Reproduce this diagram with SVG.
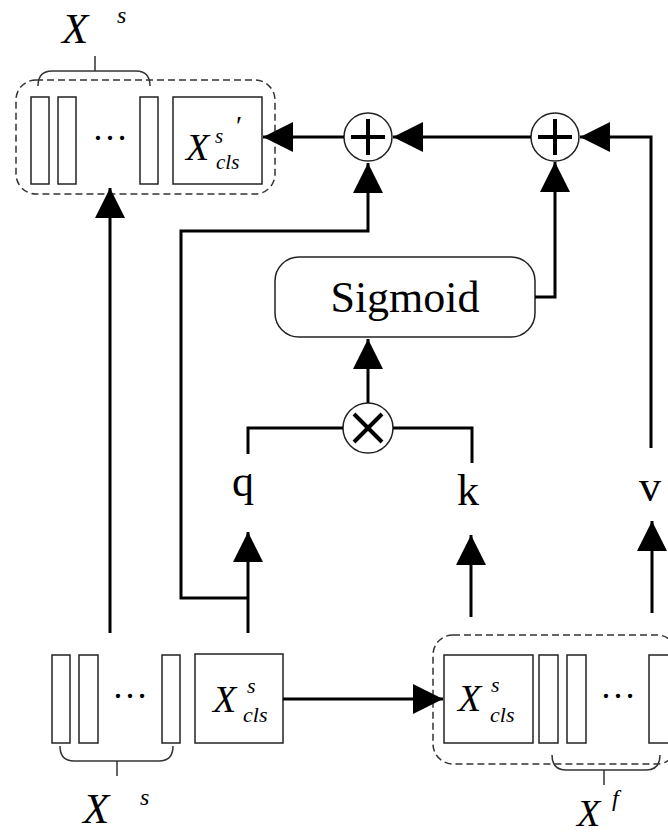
<svg xmlns="http://www.w3.org/2000/svg" width="668" height="833" viewBox="0 0 668 833">
<style>
.bar{fill:#fff;stroke:#222;stroke-width:1.5}
.dash{fill:none;stroke:#333;stroke-width:1.5;stroke-dasharray:7 4}
.brace{fill:none;stroke:#333;stroke-width:1.5}
.op{fill:#fff;stroke:#222;stroke-width:1.5}
.sym{stroke:#000;stroke-width:4;fill:none}
.con{fill:none;stroke:#000;stroke-width:3}
.arr{fill:none;stroke:#000;stroke-width:3;marker-end:url(#ah)}
text{font-family:'Liberation Serif','Times New Roman',Times,'DejaVu Serif',serif;fill:#000}
.i{font-style:italic}
</style>
<defs>
<marker id="ah" markerUnits="userSpaceOnUse" markerWidth="30" markerHeight="30" refX="28" refY="14" orient="auto" viewBox="0 0 28 28">
<path d="M0,0 L28,14 L0,28 z" fill="#000"/>
</marker>
</defs>
<rect width="668" height="833" fill="#fff"/>

<g id="top-group">
<rect class="dash" x="16" y="80" width="259" height="114" rx="20"/>
<rect class="bar" x="31" y="97" width="18" height="87"/>
<rect class="bar" x="58" y="97" width="18" height="87"/>
<rect class="bar" x="140" y="97" width="18" height="87"/>
<text x="110" y="140" font-size="36" text-anchor="middle">…</text>
<rect class="bar" x="173" y="97" width="89" height="87"/>
<text class="i" x="186" y="160" font-size="38">X</text>
<text class="i" x="215" y="143" font-size="21">s</text>
<text class="i" x="216" y="169" font-size="21">cls</text>
<text x="236" y="135" font-size="28">′</text>
<path class="brace" d="M38,86 Q38,71 52,71 L136,71 Q150,71 150,86 M95,71 L95,56"/>
<text class="i" x="62" y="43" font-size="43">X</text>
<text class="i" x="117" y="23" font-size="24">s</text>
</g>

<g id="plus1">
<circle class="op" cx="368" cy="137" r="24"/>
<path class="sym" d="M351,137 H385 M368,119 V155"/>
</g>

<g id="plus2">
<circle class="op" cx="555" cy="137" r="24"/>
<path class="sym" d="M538,137 H572 M555,119 V155"/>
</g>

<g id="sigmoid">
<rect class="op" x="275" y="257" width="260" height="80" rx="24"/>
<text x="405" y="312" font-size="44" text-anchor="middle">Sigmoid</text>
</g>

<g id="times">
<circle class="op" cx="368" cy="428" r="25"/>
<path class="sym" d="M354,414 L382,442 M382,414 L354,442"/>
</g>

<g id="labels-qkv">
<text x="243" y="496" font-size="44" text-anchor="middle">q</text>
<text x="468" y="505" font-size="44" text-anchor="middle">k</text>
<text x="650" y="501" font-size="44" text-anchor="middle">v</text>
</g>

<g id="bottom-left-group">
<rect class="bar" x="52" y="655" width="18" height="88"/>
<rect class="bar" x="79" y="655" width="19" height="88"/>
<rect class="bar" x="162" y="655" width="18" height="88"/>
<text x="130" y="698" font-size="36" text-anchor="middle">…</text>
<rect class="bar" x="195" y="654" width="88" height="89"/>
<text class="i" x="213" y="712" font-size="38">X</text>
<text class="i" x="247" y="693" font-size="22">s</text>
<text class="i" x="243" y="722" font-size="22">cls</text>
<path class="brace" d="M60,746 Q60,761 74,761 L159,761 Q173,761 173,746 M117,761 L117,776"/>
<text class="i" x="83" y="823" font-size="43">X</text>
<text class="i" x="140" y="805" font-size="24">s</text>
</g>

<g id="bottom-right-group">
<rect class="dash" x="433" y="635" width="244" height="129" rx="20"/>
<rect class="bar" x="444" y="655" width="89" height="88"/>
<text class="i" x="458" y="711" font-size="38">X</text>
<text class="i" x="491" y="692" font-size="22">s</text>
<text class="i" x="490" y="722" font-size="22">cls</text>
<rect class="bar" x="539" y="655" width="19" height="88"/>
<rect class="bar" x="567" y="655" width="19" height="88"/>
<text x="618" y="698" font-size="36" text-anchor="middle">…</text>
<rect class="bar" x="649" y="655" width="30" height="88"/>
<path class="brace" d="M552,755 Q552,770 566,770 L646,770 Q660,770 660,755 M604,770 L604,785"/>
<text class="i" x="577" y="826" font-size="38">X</text>
<text class="i" x="612" y="806" font-size="24">f</text>
</g>

<g id="connectors">
<path class="arr" d="M110,633 V188"/>
<path class="arr" d="M248,633 V532"/>
<path class="arr" d="M248,598 H181 V231 H368 V163"/>
<path class="con" d="M343,428 H248 V454"/>
<path class="con" d="M393,428 H472 V463"/>
<path class="arr" d="M368,403 V339"/>
<path class="arr" d="M535,297 H555 V162"/>
<path class="arr" d="M471,617 V535"/>
<path class="arr" d="M652,613 V521"/>
<path class="arr" d="M651,448 V137 H580"/>
<path class="arr" d="M531,137 H393"/>
<path class="arr" d="M344,137 H263"/>
<path class="arr" d="M283,699 H443"/>
</g>
</svg>
